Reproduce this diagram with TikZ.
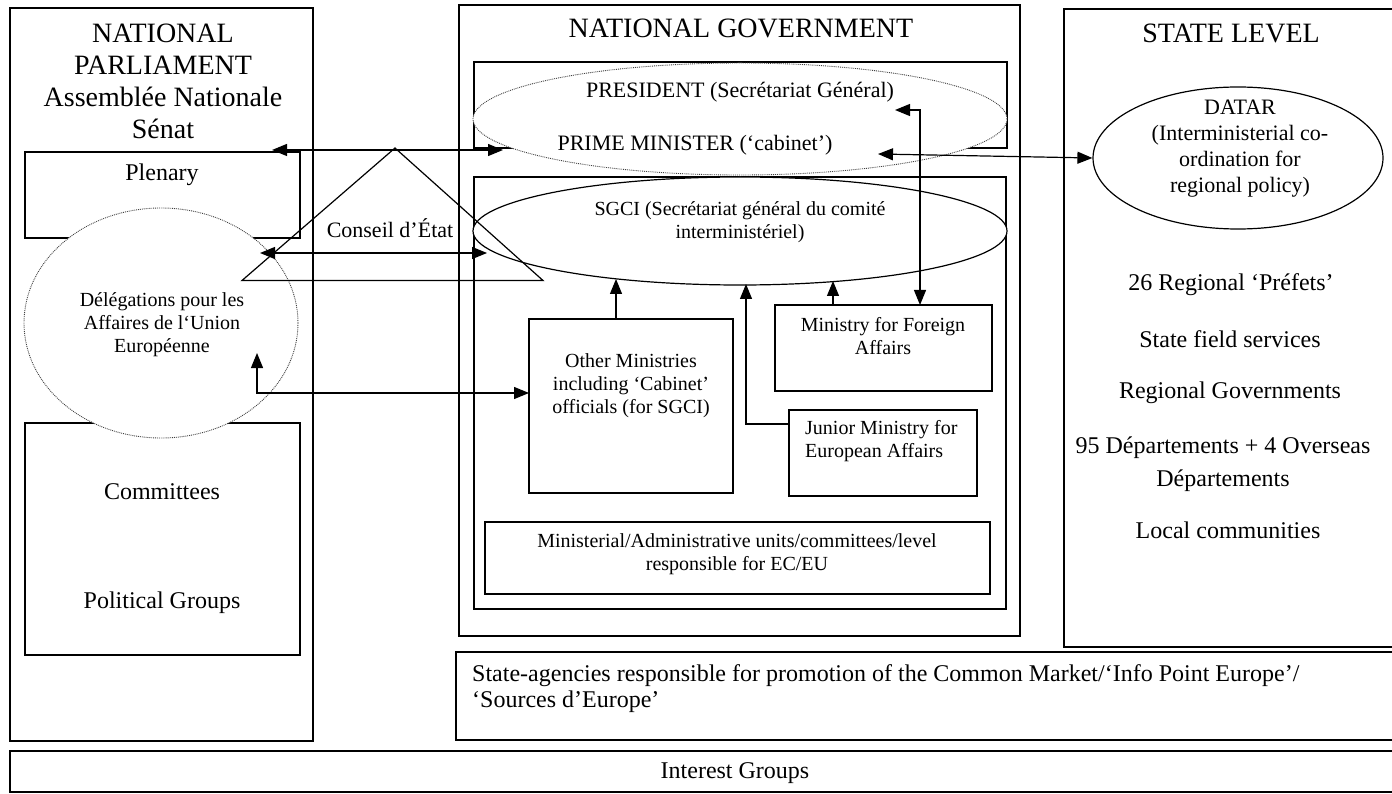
\documentclass[tikz,border=0pt]{standalone}
\usepackage{fontspec}
\setmainfont{Liberation Serif}
\usetikzlibrary{arrows.meta,shapes.geometric}
\begin{document}
\begin{tikzpicture}[x=1pt,y=-1pt,
  box/.style={draw, line width=1.2pt, rectangle, inner sep=0pt},
  wbox/.style={box, fill=white},
  dotell/.style={draw=black!75, densely dotted, line width=0.9pt, ellipse, fill=white, inner sep=0pt},
  solell/.style={draw, line width=1.2pt, ellipse, fill=white, inner sep=0pt},
  ttl/.style={font=\fontsize{28}{32}\selectfont, align=center, inner sep=0pt},
  txtL/.style={font=\fontsize{24}{27}\selectfont, align=center, inner sep=0pt},
  txtM/.style={font=\fontsize{22}{26}\selectfont, align=center, inner sep=0pt},
  txtS/.style={font=\fontsize{20}{23}\selectfont, align=center, inner sep=0pt},
  arr/.style={-{Triangle[length=15pt,width=12pt]}, line width=1.2pt},
  biarr/.style={{Triangle[length=15pt,width=12pt]}-{Triangle[length=15pt,width=12pt]}, line width=1.2pt}
]
\useasboundingbox (0,0) rectangle (1392,794);

% ---------- outer boxes ----------
\node[box, minimum width=303pt, minimum height=733pt] (parl) at (161.5,374.5) {};
\node[box, minimum width=275pt, minimum height=86pt] (plenary) at (162.5,195) {};
\node[box, minimum width=275pt, minimum height=232pt] (committees) at (162.5,539) {};

\node[box, minimum width=561pt, minimum height=631pt] (ng) at (739.5,320.5) {};
\node[box, minimum width=533pt, minimum height=86pt] (presbox) at (740.5,105) {};
\node[box, minimum width=532pt, minimum height=432pt] (sgcibox) at (740,393) {};
\node[box, minimum width=204pt, minimum height=174pt] (othermin) at (631,406) {};
\node[box, minimum width=217pt, minimum height=86pt] (mfa) at (883.5,348) {};
\node[box, minimum width=188pt, minimum height=86pt] (junior) at (883,453) {};
\node[box, minimum width=505pt, minimum height=72pt] (ministerial) at (737.5,558) {};

\node[box, minimum width=336pt, minimum height=638pt] (state) at (1232,328) {};
\node[box, minimum width=944pt, minimum height=88pt] (agencies) at (928,696) {};
\node[box, minimum width=1390pt, minimum height=41pt] (interest) at (705,771.5) {};

% ---------- ellipses ----------
\node[dotell, minimum width=274pt, minimum height=230pt] (deleg) at (161,323) {};
\node[dotell, minimum width=534pt, minimum height=112pt] (presell) at (740,119) {};
\node[solell, minimum width=534pt, minimum height=108pt] (sgciell) at (740,231) {};
\node[solell, minimum width=290pt, minimum height=142pt] (datar) at (1238,158) {};

% ---------- Conseil d'Etat triangle ----------
\coordinate (tl) at (242,280.5);
\coordinate (tt) at (395,148);
\coordinate (tr) at (543,280.5);
\draw[line width=1.2pt, line join=miter] (tl) -- (tt) -- (tr) -- cycle;

% ---------- connector end points ----------
\coordinate (plA) at (272,150);
\coordinate (pmA) at (503,150);
\coordinate (dlA) at (260,253);
\coordinate (sgA) at (487,253);
\coordinate (dlB) at (257,353);
\coordinate (omA) at (529,393);
\coordinate (pmR) at (878,154);
\coordinate (prR) at (895,110);
\coordinate (mfaT) at (920,305);
\coordinate (omT) at (616,319);
\coordinate (sgB1) at (616,279);
\coordinate (jnL) at (789,424);
\coordinate (sgB2) at (746,284);
\coordinate (mfT) at (833,305);
\coordinate (sgB3) at (833,281);

% ---------- connectors ----------
\draw[biarr] (plA) -- (pmA);
\draw[biarr] (dlA) -- (sgA);
\draw[biarr] (dlB) |- (omA);
\draw[biarr] (pmR) -- (datar.west);
\draw[biarr] (prR) -| (mfaT);
\draw[arr] (omT) -- (sgB1);
\draw[arr] (jnL) -| (sgB2);
\draw[arr] (mfT) -- (sgB3);

% ---------- texts ----------
\node[ttl] (parltitle) at (163,81) {NATIONAL\\PARLIAMENT\\Assemblée Nationale\\Sénat};
\node[txtL] (plenarytxt) at (162,175) {Plenary};
\node[txtS] (delegtxt) at (162,325) {Délégations pour les\\Affaires de l‘Union\\Européenne};
\node[txtL] (committeestxt) at (162,492) {Committees};
\node[txtL] (politicaltxt) at (162,603) {Political Groups};

\node[txtM] (conseiltxt) at (390,228) {Conseil d’État};

\node[ttl] (ngtitle) at (741,28) {NATIONAL GOVERNMENT};
\node[txtM] (prestxt) at (740,92) {PRESIDENT (Secrétariat Général)};
\node[txtM] (pmtxt) at (695,145) {PRIME MINISTER (‘cabinet’)};
\node[txtS] (sgcitxt) at (740,222) {SGCI (Secrétariat général du comité\\interministériel)};
\node[txtS] (omtxt) at (631,386) {Other Ministries\\including ‘Cabinet’\\officials (for SGCI)};
\node[txtS] (mfatxt) at (883,336) {Ministry for Foreign\\Affairs};
\node[txtS, align=left, anchor=west] (juniortxt) at (805,441) {Junior Ministry for\\European Affairs};
\node[txtS] (ministerialtxt) at (737,554) {Ministerial/Administrative units/committees/level\\responsible for EC/EU};

\node[ttl] (statetitle) at (1231,33) {STATE LEVEL};
\node[txtM, font=\fontsize{22}{26}\selectfont] (datartxt) at (1240,149) {DATAR\\(Interministerial co-\\ordination for\\regional policy)};
\node[txtL] (prefets) at (1231,285) {26 Regional ‘Préfets’};
\node[txtL] (fieldserv) at (1230,339) {State field services};
\node[txtL] (regiongov) at (1230,393) {Regional Governments};
\node[txtL, font=\fontsize{24}{33}\selectfont] (departements) at (1223,464) {95 Départements + 4 Overseas\\Départements};
\node[txtL] (localcomm) at (1228,530) {Local communities};

\node[txtL, align=left, anchor=west, font=\fontsize{24}{26}\selectfont] (agenciestxt) at (472,689) {State-agencies responsible for promotion of the Common Market/‘Info Point Europe’/\\‘Sources d’Europe’};
\node[txtL] (interesttxt) at (735,773) {Interest Groups};
\end{tikzpicture}
\end{document}
